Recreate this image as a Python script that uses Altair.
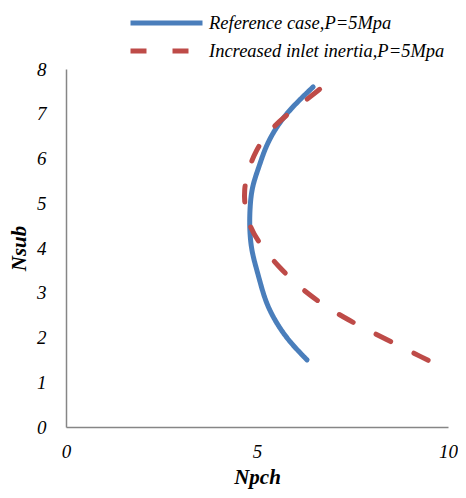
import altair as alt
import pandas as pd

ref_name = "Reference case,P=5Mpa"
inc_name = "Increased inlet inertia,P=5Mpa"

ref_npch = [6.31, 5.85, 5.49, 5.22, 5.06, 4.93, 4.84, 4.80, 4.82, 4.88, 5.05, 5.20, 5.40, 5.65, 5.92, 6.20, 6.47]
ref_nsub = [1.50, 1.90, 2.34, 2.80, 3.31, 3.70, 4.04, 4.50, 5.00, 5.40, 5.81, 6.20, 6.55, 6.87, 7.14, 7.38, 7.60]

inc_npch = [9.48, 8.24, 7.29, 6.34, 5.53, 5.02, 4.80, 4.68, 4.66, 4.75, 4.97, 5.30, 5.70, 6.20, 6.69]
inc_nsub = [1.49, 2.02, 2.43, 2.94, 3.60, 4.15, 4.50, 4.90, 5.30, 5.70, 6.19, 6.60, 6.92, 7.25, 7.58]

rows = []
for i, (x, y) in enumerate(zip(ref_npch, ref_nsub)):
    rows.append({"series": ref_name, "Npch": x, "Nsub": y, "order": i})
for i, (x, y) in enumerate(zip(inc_npch, inc_nsub)):
    rows.append({"series": inc_name, "Npch": x, "Nsub": y, "order": i})
df = pd.DataFrame(rows)

font = "Liberation Serif"

chart = alt.Chart(df).mark_line(
    strokeWidth=5, strokeCap="round", interpolate="basis"
).encode(
    x=alt.X("Npch:Q", scale=alt.Scale(domain=[0, 10], nice=False),
            axis=alt.Axis(values=[0, 5, 10], title="Npch", grid=False, ticks=False,
                          labelFlush=False,
                          domainColor="#868686", domainWidth=1.5,
                          labelFont=font, labelFontStyle="italic", labelFontSize=19,
                          labelColor="black", labelPadding=15,
                          titleFont=font, titleFontStyle="italic", titleFontWeight="bold",
                          titleFontSize=21, titleColor="black", titlePadding=5)),
    y=alt.Y("Nsub:Q", scale=alt.Scale(domain=[0, 8], nice=False),
            axis=alt.Axis(values=[0, 1, 2, 3, 4, 5, 6, 7, 8], title="Nsub", grid=False, ticks=False,
                          labelFlush=False,
                          domainColor="#868686", domainWidth=1.5,
                          labelFont=font, labelFontStyle="italic", labelFontSize=19,
                          labelColor="black", labelPadding=20,
                          titleFont=font, titleFontStyle="italic", titleFontWeight="bold",
                          titleFontSize=21, titleColor="black", titlePadding=7)),
    color=alt.Color("series:N",
                    scale=alt.Scale(domain=[ref_name, inc_name], range=["#4a7ebb", "#be4b48"]),
                    legend=alt.Legend(title=None, orient="none", legendX=62, legendY=-57,
                                      direction="vertical", symbolType="stroke",
                                      symbolSize=5184, symbolStrokeWidth=5,
                                      labelFont=font, labelFontStyle="italic",
                                      labelFontSize=18.5, labelColor="black", labelLimit=400,
                                      labelOffset=4, rowPadding=6, clipHeight=22)),
    strokeDash=alt.StrokeDash("series:N",
                              scale=alt.Scale(domain=[ref_name, inc_name], range=[[1, 0], [16, 26]]),
                              legend=None),
    detail="series:N",
    order="order:Q",
).properties(
    width=382, height=358,
    autosize=alt.AutoSizeParams(type="none"),
    padding={"left": 58, "top": 61, "right": 10, "bottom": 63},
).configure_view(stroke=None)

chart.save("out.html", embed_options={"renderer": "svg", "actions": False})
